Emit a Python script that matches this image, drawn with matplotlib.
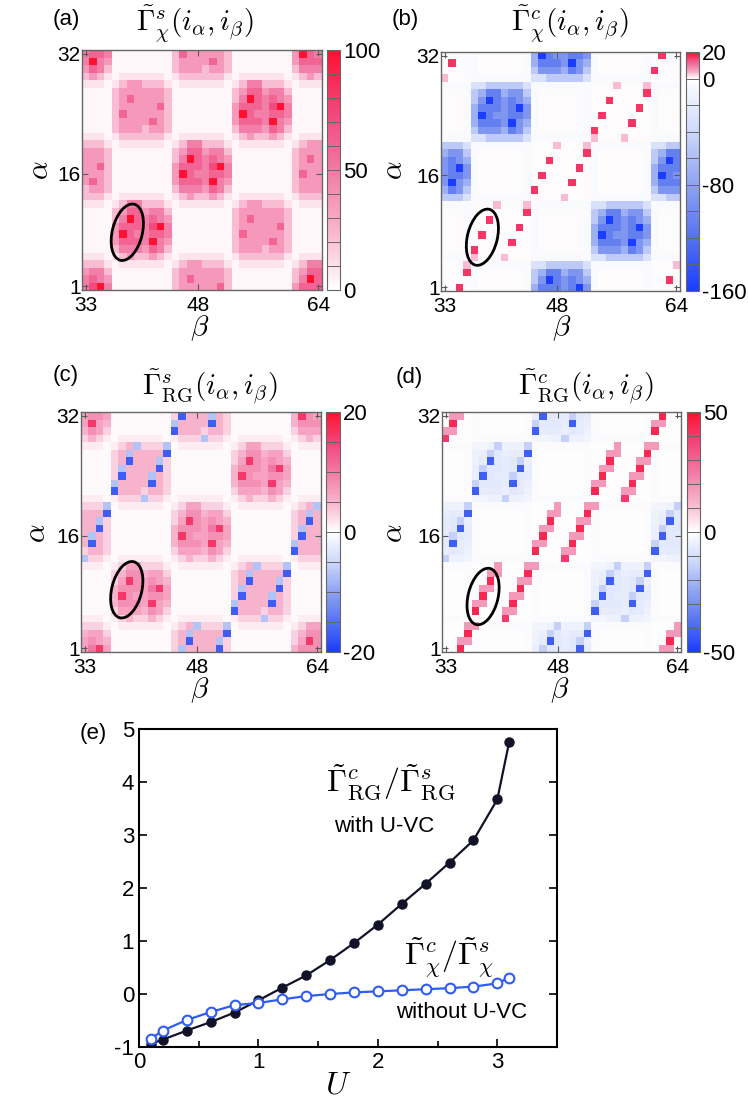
import numpy as np
import matplotlib
matplotlib.use("Agg")
import matplotlib.pyplot as plt
from matplotlib.colors import LinearSegmentedColormap, Normalize
from matplotlib.patches import Ellipse

plt.rcParams['font.family'] = ['Liberation Sans', 'DejaVu Sans']
plt.rcParams['mathtext.fontset'] = 'cm'
plt.rcParams['axes.unicode_minus'] = False

# ---------------- data ----------------
# heatmap rows listed from alpha = 32 (top) down to alpha = 1, columns beta = 33..64
a_grid = [
    "45540000000025333332000000003954",
    "49430000000023333532000000003555",
    "35420000000023332332000000002444",
    "23210111111012222221011111101232",
    "11101233222101111110124422210111",
    "00002333333200000000235534420000",
    "00002353333200000000249545430000",
    "00002333335200000000355546940000",
    "00002533333200000000395445540000",
    "00002333353200000000355549430000",
    "00002333233200000000244435420000",
    "11101222222101111110123223210111",
    "22210111111012442221011111101233",
    "33320000000023553442000000002333",
    "33320000000024954543000000002353",
    "33520000000035554694000000002333",
    "33320000000039544554000000002533",
    "35320000000035554943000000002333",
    "23320000000024443542000000002333",
    "22210111111012322321011111101222",
    "11101244222101111110123322210111",
    "00002355344200000000233333320000",
    "00002495454300000000235333320000",
    "00003555469400000000233333520000",
    "00003954455400000000253333320000",
    "00003555494300000000233335320000",
    "00002444354200000000233323320000",
    "11101232232101111110122222210111",
    "22210111111012332221011111101244",
    "34420000000023333332000000002355",
    "45430000000023533332000000002495",
    "46940000000023333352000000003555",
]
a_levels = {'0': 3, '1': 9, '2': 22, '3': 37, '4': 48, '5': 60, '6': 72, '9': 100}

b_grid = [
    "00001000000148655665100000010000",
    "00001000000146665854100000010000",
    "00001000000135554653100000010000",
    "00001111111122333332111111110000",
    "11112233333211111111000000001111",
    "00013466455310000001000000001000",
    "00013586565410000001000000001000",
    "00014666568510000001000000001000",
    "00014865566510000001000000001000",
    "00014666585410000001000000001000",
    "00013555465310000001000000001000",
    "11112233333211111111000000001111",
    "33321111111100000000111111112233",
    "45531000000100000000100000013466",
    "56541000000100000000100000013586",
    "56851000000100000000100000014666",
    "56651000000100000000100000014865",
    "58541000000100000000100000014666",
    "46531000000100000000100000013555",
    "33321111111100000000111111112233",
    "11110000000011111111223333321111",
    "00010000000010000001346645531000",
    "00010000000010000001358656541000",
    "00010000000010000001466656851000",
    "00010000000010000001486556651000",
    "00010000000010000001466658541000",
    "00010000000010000001355546531000",
    "11110000000011111111223333321111",
    "00001111111122333332111111110000",
    "00001000000134664553100000010000",
    "00001000000135865654100000010000",
    "00001000000146665685100000010000",
]
b_levels = {'0': 0, '1': -5, '2': -30, '3': -50, '4': -70, '5': -90, '6': -110, '8': -160}

# (c) shows the block texture of (a) at a smaller scale, (d) a faint haze where (b) has blocks
c_levels = {'0': 0.4, '1': 1.2, '2': 3, '3': 5, '4': 6.5, '5': 8, '6': 10, '9': 16}
d_levels = {'0': 0, '1': -1, '2': -3, '3': -4, '4': -5, '5': -6, '6': -7, '8': -8}

# red / pale cells of the stripes in (b)
b_red_beta = [34, 35, 36, 37, 38, 39, 42, 43, 44, 45, 46, 47, 50, 51, 52, 53, 54, 55, 58, 59, 60, 61, 62, 63]
b_red_alpha = [31, 1, 3, 6, 8, 10, 7, 9, 11, 14, 16, 18, 15, 17, 19, 22, 24, 26, 23, 25, 27, 30, 32, 2]
b_pale_beta = [33, 36, 37, 40, 41, 44, 48, 49, 52, 53, 56, 57, 60, 64]
b_pale_alpha = [29, 4, 5, 12, 5, 12, 20, 13, 20, 21, 28, 21, 28, 4]

# blue stripes of (c) (also present in (d))
c_blue_beta = [34, 35, 36, 37, 38, 39, 42, 43, 44, 45, 46, 47, 50, 51, 52, 53, 54, 55, 58, 59, 60, 61, 62, 63]
c_blue_alpha = [15, 17, 19, 22, 24, 26, 23, 25, 27, 30, 32, 2, 31, 1, 3, 6, 8, 10, 7, 9, 11, 14, 16, 18]
c_light_beta = [33, 40, 41, 48, 49, 56, 57, 64, 34, 35, 36, 37, 38, 39, 42, 43, 44, 45, 46, 47,
                50, 51, 52, 53, 54, 55, 58, 59, 60, 61, 62, 63]
c_light_alpha = [13, 28, 21, 4, 29, 12, 5, 20, 16, 18, 20, 23, 25, 27, 24, 26, 28, 31, 1, 3,
                 32, 2, 4, 7, 9, 11, 8, 10, 12, 15, 17, 19]

# extra red cells and pink cells of the thick stripes in (d)
d_red_extra_beta = [33, 41, 49, 57]
d_red_extra_alpha = [29, 5, 13, 21]
d_pink_beta = [34, 35, 35, 36, 36, 37, 37, 38, 38, 39, 39, 40,
               42, 43, 43, 44, 44, 45, 45, 46, 46, 47, 47, 48,
               50, 51, 51, 52, 52, 53, 53, 54, 54, 55, 55, 56,
               58, 59, 59, 60, 60, 61, 61, 62, 62, 63, 63, 64,
               33, 34, 41, 42, 49, 50, 57, 58, 40, 48, 56, 64]
d_pink_alpha = [32, 32, 2, 2, 4, 4, 7, 7, 9, 9, 11, 11,
                8, 8, 10, 10, 12, 12, 15, 15, 17, 17, 19, 19,
                16, 16, 18, 18, 20, 20, 23, 23, 25, 25, 27, 27,
                24, 24, 26, 26, 28, 28, 31, 31, 1, 1, 3, 3,
                30, 30, 6, 6, 14, 14, 22, 22, 12, 20, 28, 4]

# panel (e)
U = [0.1, 0.2, 0.4, 0.6, 0.8, 1.0, 1.2, 1.4, 1.6, 1.8, 2.0, 2.2, 2.4, 2.6, 2.8, 3.0, 3.1]
ratio_rg = [-0.94, -0.86, -0.69, -0.53, -0.35, -0.12, 0.12, 0.35, 0.64, 0.96, 1.31, 1.70,
            2.08, 2.48, 2.90, 3.67, 4.76]
ratio_chi = [-0.84, -0.69, -0.49, -0.34, -0.21, -0.17, -0.10, -0.04, 0.00, 0.03, 0.05, 0.07,
             0.09, 0.11, 0.14, 0.20, 0.31]


# ---------------- helpers ----------------
def build(grid, levels):
    Z = np.zeros((32, 32))
    for r, row in enumerate(grid):
        for j, ch in enumerate(row):
            Z[31 - r, j] = levels[ch]
    return Z


def put(Z, betas, alphas, value):
    for b, a in zip(betas, alphas):
        Z[a - 1, b - 33] = value


neg_colors = ['#1a3dff', '#5573f0', '#8ea3f2', '#cdd8fa']
pos_colors = ['#f8b4cd', '#f27aa5', '#f2457a', '#ff1030']


def make_cmap(vmin, vmax):
    stops = []
    if vmin < 0:
        for f, c in zip([-1, -0.75, -0.5, -0.25], neg_colors):
            stops.append(((f * -vmin - vmin) / (vmax - vmin), c))
    stops.append(((0 - vmin) / (vmax - vmin), '#ffffff'))
    for f, c in zip([0.25, 0.5, 0.75, 1.0], pos_colors):
        stops.append(((f * vmax - vmin) / (vmax - vmin), c))
    return LinearSegmentedColormap.from_list('m', stops)


W, H = 748, 1102


def rect(x0, y0, x1, y1):
    return [x0 / W, 1 - y1 / H, (x1 - x0) / W, (y1 - y0) / H]


def fxy(x, y):
    return x / W, 1 - y / H


fig = plt.figure(figsize=(W / 100, H / 100), dpi=100)


def heat(Z, box, cbox, vmin, vmax, ticks, step, ell, title, tpos, label, lpos, bpos, apos):
    ax = fig.add_axes(rect(*box))
    cmap = make_cmap(vmin, vmax)
    im = ax.imshow(Z, origin='lower', extent=(32.5, 64.5, 0.5, 32.5), cmap=cmap,
                   norm=Normalize(vmin, vmax), interpolation='nearest', aspect='auto')
    ax.set_xticks([33, 48, 64])
    ax.set_yticks([1, 16, 32])
    ax.tick_params(direction='in', top=True, right=True, length=4, width=0.8,
                   color='0.35', labelsize=15)
    ax.tick_params(axis='x', pad=4)
    ax.tick_params(axis='y', pad=1)
    for s in ax.spines.values():
        s.set_color('0.4')
        s.set_linewidth(1.0)
    ax.add_patch(Ellipse(ell, width=4.0, height=7.7, angle=-14, fill=False,
                         ec='black', lw=2.0))
    cax = fig.add_axes(rect(*cbox))
    cb = fig.colorbar(im, cax=cax, ticks=ticks)
    cax.tick_params(length=0, labelsize=16, pad=2)
    for v in np.arange(vmin + step, vmax - step / 2, step):
        cax.axhline(v, color='0.4', lw=0.7)
    cb.outline.set_edgecolor('0.4')
    fig.text(*fxy(*tpos), title, fontsize=21, ha='center', va='center')
    fig.text(*fxy(*lpos), label, fontsize=16, ha='center', va='center')
    fig.text(*fxy(*bpos), r'$\beta$', fontsize=21, ha='center', va='center')
    fig.text(*fxy(*apos), r'$\alpha$', fontsize=21, ha='center', va='center', rotation=90)


Za = build(a_grid, a_levels)

Zb = build(b_grid, b_levels)
put(Zb, b_pale_beta, b_pale_alpha, 4)
put(Zb, b_red_beta, b_red_alpha, 16)

Zc = build(a_grid, c_levels)
put(Zc, c_light_beta, c_light_alpha, -7)
put(Zc, c_blue_beta, c_blue_alpha, -17)

Zd = build(b_grid, d_levels)
put(Zd, c_light_beta, c_light_alpha, -14)
put(Zd, c_blue_beta, c_blue_alpha, -42)
put(Zd, d_pink_beta, d_pink_alpha, 18)
put(Zd, b_red_beta, b_red_alpha, 44)
put(Zd, d_red_extra_beta, d_red_extra_alpha, 40)

heat(Za, (82, 50, 322, 290), (327, 50, 340, 290), 0, 100, [0, 50, 100], 10,
     (38.54, 8.2), r'$\tilde{\Gamma}^s_\chi(i_\alpha,i_\beta)$', (195, 24), '(a)', (66, 20),
     (200, 328), (40, 170))
heat(Zb, (441, 52, 680, 291), (686, 52, 699, 291), -160, 20, [-160, -80, 0, 20], 20,
     (38.04, 7.7), r'$\tilde{\Gamma}^c_\chi(i_\alpha,i_\beta)$', (570, 24), '(b)', (405, 20),
     (562, 328), (394, 170))
heat(Zc, (81, 412, 321, 652), (326, 412, 340, 652), -20, 20, [-20, 0, 20], 5,
     (38.6, 8.8), r'$\tilde{\Gamma}^s_{\rm RG}(i_\alpha,i_\beta)$', (210, 387), '(c)', (66, 375),
     (200, 690), (37, 533))
heat(Zd, (442, 412, 681, 652), (687, 412, 700, 652), -50, 50, [-50, 0, 50], 10,
     (38.0, 7.9), r'$\tilde{\Gamma}^c_{\rm RG}(i_\alpha,i_\beta)$', (586, 387), '(d)', (409, 377),
     (560, 690), (394, 533))

# ---------------- panel (e) ----------------
ax = fig.add_axes(rect(139, 729, 557, 1047))
ax.plot(U, ratio_rg, '-o', color='#121228', lw=1.6, ms=6.5, mfc='#121228', mec='#121228')
ax.plot(U, ratio_chi, '-o', color='#2f5cf5', lw=1.6, ms=7, mfc='white', mec='#2f5cf5', mew=1.5)
ax.set_xlim(0, 3.5)
ax.set_ylim(-1, 5)
ax.set_xticks([0, 1, 2, 3])
ax.set_xticks([0.5, 1.5, 2.5], minor=True)
ax.set_yticks([-1, 0, 1, 2, 3, 4, 5])
ax.tick_params(which='both', direction='in', right=True, labelsize=16, width=1.2)
ax.tick_params(which='major', length=6)
ax.tick_params(which='minor', length=4)
for s in ax.spines.values():
    s.set_linewidth(1.5)
fig.text(*fxy(93, 733), '(e)', fontsize=16, ha='center', va='center')
fig.text(*fxy(391, 782), r'$\tilde{\Gamma}^c_{\rm RG}/\tilde{\Gamma}^s_{\rm RG}$',
         fontsize=23, ha='center', va='center')
fig.text(*fxy(384, 827), 'with U-VC', fontsize=16, ha='center', va='center')
fig.text(*fxy(449, 957), r'$\tilde{\Gamma}^c_\chi/\tilde{\Gamma}^s_\chi$',
         fontsize=23, ha='center', va='center')
fig.text(*fxy(462, 1013), 'without U-VC', fontsize=16, ha='center', va='center')
fig.text(*fxy(338, 1085), r'$U$', fontsize=23, ha='center', va='center')

fig.savefig('out.png', dpi=100)
